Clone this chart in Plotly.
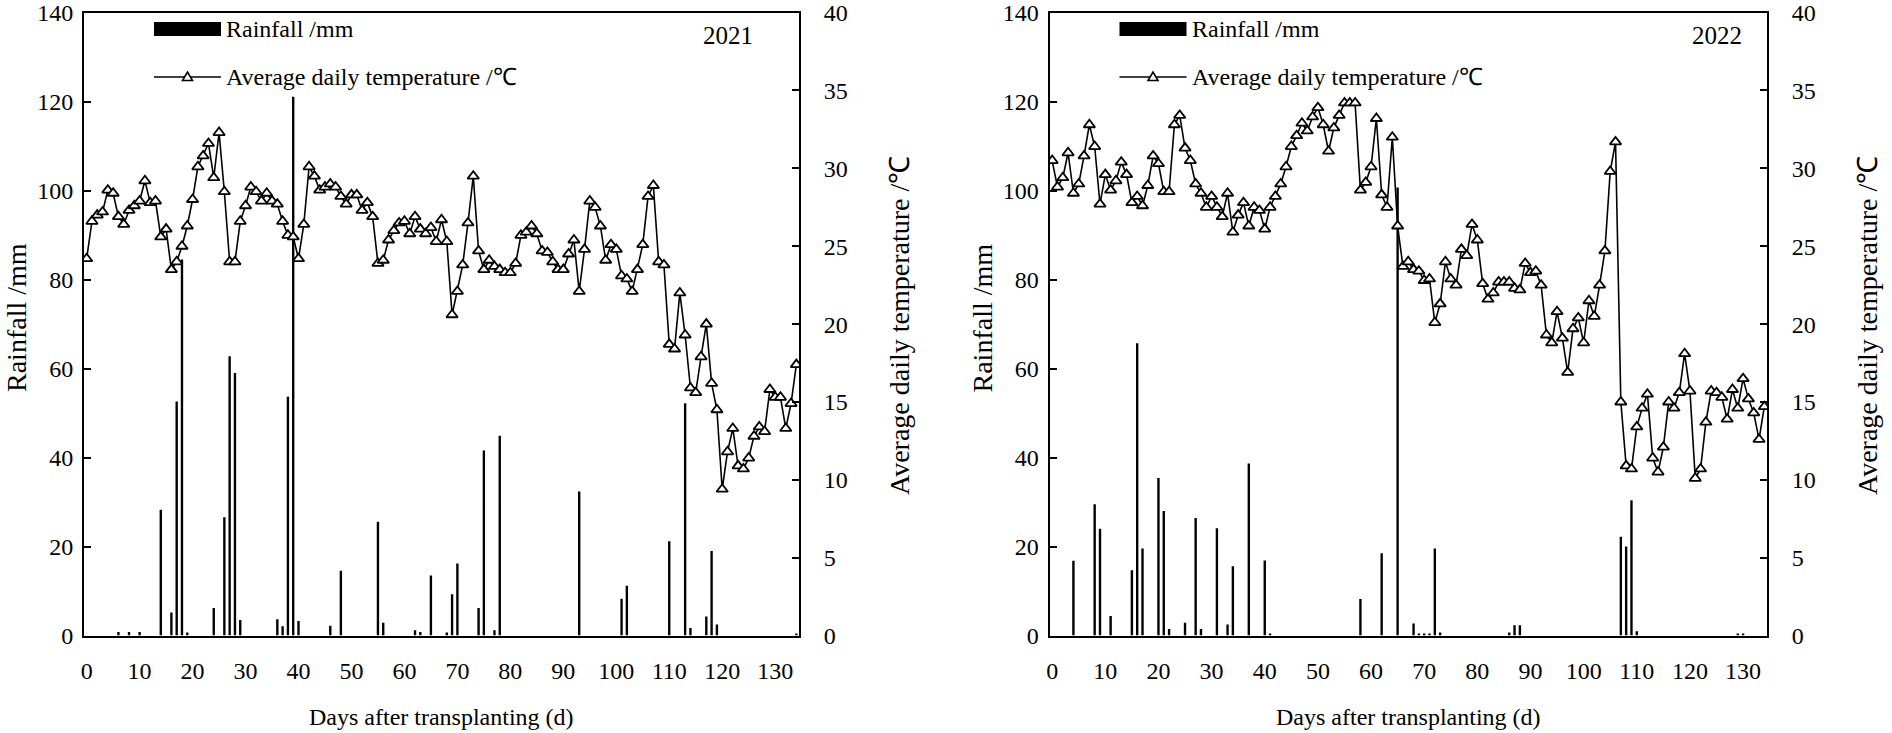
import plotly.graph_objects as go

# ---------------- data ----------------
days_2021 = list(range(0, 135))
temp_2021 = [
    24.2, 26.6, 27.0, 27.2, 28.6, 28.4, 26.9, 26.4, 27.3, 27.6,
    27.9, 29.2, 27.8, 27.9, 25.6, 26.1, 23.5, 24.0, 25.0, 26.3,
    28.0, 30.1, 30.8, 31.6, 29.4, 32.3, 28.5, 24.0, 24.0, 26.6,
    27.6, 28.8, 28.5, 27.9, 28.4, 27.9, 27.7, 26.6, 25.7, 25.6,
    24.2, 26.4, 30.1, 29.5, 28.6, 28.8, 29.0, 28.8, 28.2, 27.7,
    28.3, 28.3, 27.3, 27.8, 26.9, 23.9, 24.1, 25.4, 26.0, 26.5,
    26.6, 25.8, 26.9, 26.1, 25.8, 26.2, 25.3, 26.7, 25.3, 20.6,
    22.1, 23.8, 26.5, 29.5, 24.7, 23.5, 24.1, 23.7, 23.5, 23.3,
    23.3, 23.9, 25.7, 25.9, 26.3, 25.8, 24.7, 24.6, 24.0, 23.5,
    23.5, 24.5, 25.4, 22.1, 24.8, 27.9, 27.5, 26.3, 24.1, 25.1,
    24.8, 23.1, 22.9, 22.1, 23.5, 25.1, 28.2, 28.9, 24.0, 23.8,
    18.7, 18.4, 22.0, 19.3, 15.9, 15.6, 17.9, 20.0, 16.2, 14.5,
    9.4, 11.8, 13.3, 10.9, 10.7, 11.4, 12.8, 13.4, 13.1, 15.8,
    15.3, 15.3, 13.3, 14.9, 17.4,
]
rain_days_2021 = [6, 8, 10, 14, 16, 17, 18, 19, 24, 26, 27, 28, 29, 36, 37, 38, 39, 40,
                  46, 48, 55, 56, 62, 63, 65, 68, 69, 70, 74, 75, 77, 78, 93, 101, 102,
                  110, 113, 114, 117, 118, 119, 134]
rain_2021 = [0.8, 0.8, 0.8, 28.3, 5.2, 52.6, 84.5, 0.7, 6.2, 26.6, 62.8, 59.0, 3.5, 3.7, 2.1, 53.7, 121.1, 3.3,
             2.2, 14.6, 25.6, 2.9, 1.2, 0.8, 13.5, 0.7, 9.3, 16.2, 6.2, 41.6, 1.2, 44.9, 32.4, 8.3, 11.2,
             21.2, 52.2, 1.7, 4.3, 19.0, 2.5, 0.4]

days_2022 = list(range(0, 135))
temp_2022 = [
    30.5, 28.8, 29.4, 31.0, 28.4, 29.0, 30.8, 32.8, 31.4, 27.7,
    29.6, 28.6, 29.2, 30.4, 29.6, 27.8, 28.2, 27.6, 28.9, 30.8,
    30.3, 28.5, 28.5, 32.8, 33.4, 31.3, 30.5, 29.0, 28.4, 27.5,
    28.2, 27.5, 26.9, 28.4, 25.9, 27.0, 27.8, 26.3, 27.5, 27.3,
    26.1, 27.5, 28.2, 29.0, 30.1, 31.4, 32.1, 32.9, 32.4, 33.3,
    33.9, 32.8, 31.1, 32.6, 33.4, 34.2, 34.2, 34.2, 28.6, 29.1,
    30.1, 33.2, 28.3, 27.5, 32.0, 26.3, 23.7, 24.0, 23.5, 23.4,
    22.8, 22.9, 20.1, 21.3, 24.0, 22.9, 22.5, 24.8, 24.4, 26.4,
    25.4, 22.6, 21.6, 22.0, 22.7, 22.7, 22.7, 22.3, 22.2, 23.9,
    23.3, 23.4, 22.5, 19.3, 18.8, 20.8, 19.1, 16.9, 19.7, 20.4,
    18.8, 21.5, 20.5, 22.5, 24.7, 29.8, 31.7, 15.0, 10.9, 10.7,
    13.4, 14.6, 15.5, 11.4, 10.5, 12.1, 15.0, 14.6, 15.6, 18.1,
    15.7, 10.1, 10.7, 13.7, 15.7, 15.6, 15.3, 13.9, 15.8, 14.6,
    16.5, 15.2, 14.3, 12.6, 14.7,
]
rain_days_2022 = [4, 8, 9, 11, 15, 16, 17, 20, 21, 22, 25, 27, 28, 31, 33, 34, 37, 40, 41,
                  58, 62, 65, 68, 69, 70, 71, 72, 73, 86, 87, 88, 107, 108, 109, 110, 129, 130]
rain_2022 = [16.8, 29.5, 24.0, 4.4, 14.7, 65.7, 19.6, 35.4, 28.0, 1.5, 2.9, 26.4, 1.5, 24.1, 2.5, 15.6, 38.7, 16.9, 0.3,
             8.2, 18.5, 100.7, 2.7, 0.5, 0.5, 0.5, 19.6, 0.7, 0.7, 2.3, 2.3, 22.2, 20.0, 30.4, 1.0, 0.3, 0.3]

x_ticks = list(range(0, 131, 10))
rain_ticks = list(range(0, 141, 20))
temp_ticks = list(range(0, 41, 5))
year_labels = ["2021", "2022"]
rain_label = "Rainfall /mm"
temp_label = "Average daily temperature /℃"
x_title = "Days after transplanting (d)"

# ---------------- layout geometry (pixels) ----------------
W, H = 1892, 733
FONT = "Liberation Serif, Times New Roman, serif"
panels = [
    dict(left=84.0, right=799.0, year_right=755),
    dict(left=1049.5, right=1767.0, year_right=1744),
]
top_px, bot_px = 12.6, 635.6


def px(x):
    return x / W


def py(y):
    return (H - y) / H


fig = go.Figure()
series = [
    (days_2021, temp_2021, rain_days_2021, rain_2021),
    (days_2022, temp_2022, rain_days_2022, rain_2022),
]
shapes = []
annotations = []

for i, (p, (dd, tt, rd, rr)) in enumerate(zip(panels, series)):
    xa = "x" if i == 0 else "x2"
    ya_rain = "y" if i == 0 else "y3"
    ya_temp = "y2" if i == 0 else "y4"
    fig.add_trace(go.Bar(x=rd, y=rr, xaxis=xa, yaxis=ya_rain, width=0.45,
                         marker=dict(color="black", line=dict(width=0)),
                         showlegend=False, name=rain_label))
    fig.add_trace(go.Scatter(x=dd, y=tt, xaxis=xa, yaxis=ya_temp, mode="lines+markers",
                             line=dict(color="black", width=1.6),
                             marker=dict(symbol="triangle-up", size=10, color="white",
                                         line=dict(color="black", width=1.8)),
                             showlegend=False, name=temp_label))

    L, R = p["left"], p["right"]
    xdom = [px(L), px(R)]
    ydom = [py(bot_px), py(top_px)]
    ax_x = dict(domain=xdom, range=[-0.5, 134.5], tickvals=x_ticks, ticks="",
                showline=True, linecolor="black", linewidth=2, mirror=True,
                showgrid=False, zeroline=False, anchor=ya_rain, automargin=False,
                tickfont=dict(family=FONT, size=24, color="black"),
                ticklabelstandoff=13)
    ax_rain = dict(domain=ydom, range=[0, 140], tickvals=rain_ticks, ticks="inside",
                   ticklen=7, tickwidth=2, tickcolor="black",
                   showline=True, linecolor="black", linewidth=2,
                   showgrid=False, zeroline=False, anchor=xa, side="left", automargin=False,
                   tickfont=dict(family=FONT, size=24, color="black"),
                   ticklabelstandoff=4)
    ax_temp = dict(domain=ydom, range=[0, 40], tickvals=temp_ticks, ticks="inside",
                   ticklen=7, tickwidth=2, tickcolor="black",
                   showline=True, linecolor="black", linewidth=2,
                   showgrid=False, zeroline=False, anchor=xa, side="right",
                   overlaying=ya_rain, automargin=False,
                   tickfont=dict(family=FONT, size=24, color="black"),
                   ticklabelstandoff=18)
    if i == 0:
        fig.update_layout(xaxis=ax_x, yaxis=ax_rain, yaxis2=ax_temp)
    else:
        fig.update_layout(xaxis2=ax_x, yaxis3=ax_rain, yaxis4=ax_temp)

    # axis titles
    annotations.append(dict(text=rain_label, x=px(L - 68), y=py(318), xref="paper", yref="paper",
                            textangle=-90, showarrow=False, xanchor="center", yanchor="middle",
                            font=dict(family=FONT, size=28, color="black")))
    annotations.append(dict(text=temp_label, x=px(R + 101), y=py(326), xref="paper", yref="paper",
                            textangle=-90, showarrow=False, xanchor="center", yanchor="middle",
                            font=dict(family=FONT, size=28, color="black")))
    annotations.append(dict(text=x_title, x=px((L + R) / 2), y=py(717), xref="paper", yref="paper",
                            showarrow=False, xanchor="center", yanchor="middle",
                            font=dict(family=FONT, size=24, color="black")))
    # year label
    annotations.append(dict(text=year_labels[i], x=px(p["year_right"]), y=py(36), xref="paper", yref="paper",
                            showarrow=False, xanchor="right", yanchor="middle",
                            font=dict(family=FONT, size=25, color="black")))

    # manual legend
    lx0, lx1 = L + 70, L + 137
    shapes.append(dict(type="rect", xref="paper", yref="paper", x0=px(lx0), x1=px(lx1),
                       y0=py(36), y1=py(22), fillcolor="black", line=dict(width=0)))
    annotations.append(dict(text=rain_label, x=px(lx1 + 3), y=py(29), xref="paper", yref="paper",
                            showarrow=False, xanchor="left", yanchor="middle",
                            font=dict(family=FONT, size=24, color="black")))
    ly = 77
    shapes.append(dict(type="line", xref="paper", yref="paper", x0=px(lx0), x1=px(lx1),
                       y0=py(ly), y1=py(ly), line=dict(color="black", width=1.6)))
    cx = (lx0 + lx1) / 2
    tri = f"M {px(cx - 5)},{py(ly + 3.5)} L {px(cx + 5)},{py(ly + 3.5)} L {px(cx)},{py(ly - 5)} Z"
    shapes.append(dict(type="path", xref="paper", yref="paper", path=tri,
                       fillcolor="white", line=dict(color="black", width=1.6)))
    annotations.append(dict(text=temp_label, x=px(lx1 + 3), y=py(ly), xref="paper", yref="paper",
                            showarrow=False, xanchor="left", yanchor="middle",
                            font=dict(family=FONT, size=24, color="black")))

fig.update_layout(
    template="none",
    width=W, height=H,
    margin=dict(l=0, r=0, t=0, b=0, pad=0, autoexpand=False),
    paper_bgcolor="white", plot_bgcolor="white",
    showlegend=False,
    shapes=shapes, annotations=annotations,
    font=dict(family=FONT, color="black"),
)

fig.write_html(
    "out.html",
    config={"displayModeBar": False, "responsive": False},
    post_script="document.body.style.margin='0';document.body.style.padding='0';"
                "document.body.style.overflow='hidden';",
)
